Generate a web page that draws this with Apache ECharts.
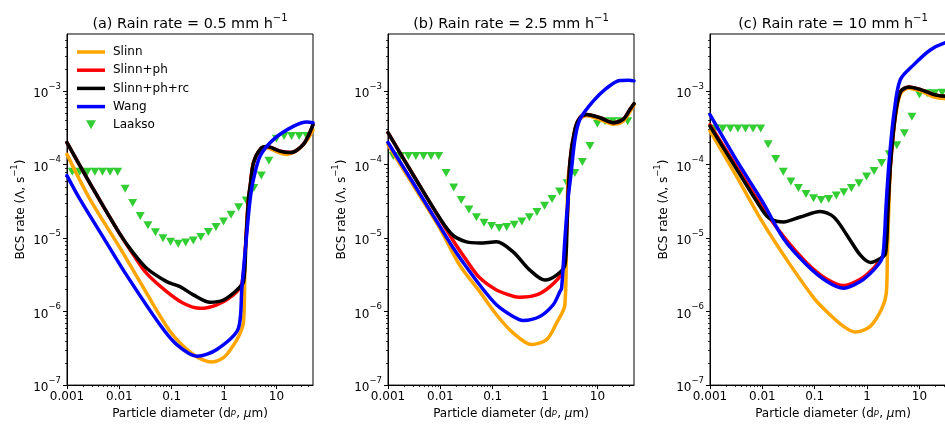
<!DOCTYPE html>
<html><head><meta charset="utf-8">
<script src="https://cdn.jsdelivr.net/npm/echarts@6/dist/echarts.min.js"></script>
<style>html,body{margin:0;padding:0;overflow:hidden;background:#fff}#c{width:960px;height:425px}</style>
</head><body><div id="c"></div><script>
// ---------- data ----------
const rainRates = ['0.5', '2.5', '10'];
const panelLetters = ['(a)', '(b)', '(c)'];
const seriesNames = ['Slinn', 'Slinn+ph', 'Slinn+ph+rc', 'Wang', 'Laakso'];
const seriesColors = ['#FFA500', '#FF0000', '#000000', '#0000FF', '#32CD32'];
const xTickValues = [0.001, 0.01, 0.1, 1, 10];
const xTickLabels = ['0.001', '0.01', '0.1', '1', '10'];
const yTickValues = [1e-7, 1e-6, 1e-5, 1e-4, 1e-3];
const yTickExponents = ['−7', '−6', '−5', '−4', '−3'];

const laaksoDiam = [0.00126,0.00175,0.00245,0.00341,0.00476,0.00664,0.00927,0.0129,0.0180,0.0251,0.0351,0.0489,0.0682,0.0951,0.133,0.185,0.258,0.360,0.502,0.700,0.977,1.36,1.90,2.65,3.70,5.16,7.19,10.0,14.0,19.5,27.2,37.9];
const laaksoA = [8.0e-5,8.0e-5,8.0e-5,8.0e-5,8.0e-5,8.0e-5,8.0e-5,4.7e-5,3.0e-5,2.0e-5,1.5e-5,1.2e-5,1.0e-5,8.9e-6,8.4e-6,8.7e-6,9.3e-6,1.04e-5,1.21e-5,1.42e-5,1.69e-5,2.08e-5,2.64e-5,3.24e-5,4.8e-5,7.1e-5,1.13e-4,2.25e-4,2.45e-4,2.45e-4,2.45e-4,2.45e-4];
const laaksoB = [1.31e-4,1.31e-4,1.31e-4,1.31e-4,1.31e-4,1.31e-4,1.31e-4,7.7e-5,4.9e-5,3.3e-5,2.45e-5,1.93e-5,1.62e-5,1.46e-5,1.37e-5,1.42e-5,1.52e-5,1.69e-5,1.93e-5,2.26e-5,2.77e-5,3.4e-5,4.3e-5,5.6e-5,7.7e-5,1.09e-4,1.8e-4,3.6e-4,3.9e-4,3.9e-4,3.9e-4,3.9e-4];
const laaksoC = [3.1e-4,3.1e-4,3.1e-4,3.1e-4,3.1e-4,3.1e-4,3.1e-4,1.9e-4,1.19e-4,8.0e-5,5.9e-5,4.8e-5,4.0e-5,3.5e-5,3.3e-5,3.4e-5,3.8e-5,4.2e-5,4.8e-5,5.6e-5,6.9e-5,8.2e-5,1.05e-4,1.39e-4,1.84e-4,2.67e-4,4.5e-4,9.0e-4,9.4e-4,9.4e-4,9.5e-4,9.5e-4];

// panel (a) 0.5 mm/h
const slinnA = [[0.001,1.38e-4],[0.00272,3.42e-5],[0.01,7.6e-6],[0.0247,2.56e-6],[0.0927,5.4e-7],[0.259,2.61e-7],[0.583,2.06e-7],[1.13,2.61e-7],[2.36,7.4e-7],[2.51,5.0e-6],[2.82,2.5e-5],[3.16,5.0e-5],[3.63,1.05e-4],[4.9,1.58e-4],[6.6,1.7e-4],[10,1.51e-4],[15.8,1.38e-4],[25,1.58e-4],[35.5,2.0e-4],[50,2.95e-4]];
const slinnPhA = [[0.001,2.0e-4],[0.00316,4.68e-5],[0.01,1.17e-5],[0.0184,6.0e-6],[0.0332,3.31e-6],[0.0802,1.87e-6],[0.167,1.30e-6],[0.348,1.11e-6],[0.728,1.24e-6],[1.51,1.69e-6],[2.19,2.43e-6],[2.63,1.0e-5],[2.93,3.42e-5],[3.16,5.2e-5],[3.66,1.07e-4],[4.9,1.62e-4],[6.6,1.76e-4],[11.7,1.53e-4],[18.5,1.46e-4],[33,1.9e-4],[50,3.5e-4]];
const slinnPhRcA = [[0.001,2.0e-4],[0.00316,4.68e-5],[0.01,1.17e-5],[0.0184,6.3e-6],[0.0332,3.89e-6],[0.0802,2.56e-6],[0.144,2.19e-6],[0.259,1.69e-6],[0.542,1.34e-6],[0.975,1.44e-6],[1.76,1.97e-6],[2.36,2.56e-6],[2.63,1.0e-5],[2.93,3.42e-5],[3.16,5.2e-5],[3.66,1.07e-4],[4.9,1.62e-4],[6.6,1.76e-4],[11.7,1.53e-4],[18.5,1.46e-4],[33,1.9e-4],[50,3.5e-4]];
const wangA = [[0.001,7.1e-5],[0.00175,3.42e-5],[0.005,1.01e-5],[0.01374,3.14e-6],[0.0597,6.64e-7],[0.125,3.56e-7],[0.305,2.47e-7],[0.728,3.05e-7],[1.89,5.98e-7],[2.19,2.1e-6],[2.73,1.21e-5],[3.16,3.42e-5],[3.66,6.4e-5],[4.92,1.32e-4],[8.85,2.21e-4],[21.4,3.34e-4],[38.5,3.8e-4],[50,3.72e-4]];

// panel (b) 2.5 mm/h
const slinnB = [[0.001,1.86e-4],[0.00316,5.0e-5],[0.01,1.32e-5],[0.0235,4.28e-6],[0.0566,1.87e-6],[0.118,9.06e-7],[0.245,5.13e-7],[0.552,3.56e-7],[1.07,4.16e-7],[1.66,7.0e-7],[2.39,1.24e-6],[2.57,1.0e-5],[2.75,6.3e-5],[2.98,1.0e-4],[3.72,2.88e-4],[4.62,4.17e-4],[6.21,4.62e-4],[11.2,4.12e-4],[20,3.55e-4],[30.9,3.89e-4],[41.7,5.25e-4],[50,6.46e-4]];
const slinnPhB = [[0.001,2.72e-4],[0.00316,6.9e-5],[0.01,1.78e-5],[0.0175,9.3e-6],[0.0316,5.0e-6],[0.0566,2.88e-6],[0.118,1.97e-6],[0.245,1.62e-6],[0.33,1.57e-6],[0.687,1.69e-6],[1.24,2.19e-6],[2.07,3.31e-6],[2.40,6.3e-6],[2.63,1.58e-5],[2.98,1.07e-4],[3.72,3.02e-4],[4.62,4.35e-4],[6.21,4.81e-4],[11.2,4.35e-4],[20,3.72e-4],[30.9,4.12e-4],[41.7,5.62e-4],[50,6.76e-4]];
const slinnPhRcB = [[0.001,2.72e-4],[0.00316,6.9e-5],[0.01,1.82e-5],[0.0175,1.09e-5],[0.0316,8.9e-6],[0.0566,8.6e-6],[0.118,8.9e-6],[0.245,6.5e-6],[0.513,3.67e-6],[0.99,2.69e-6],[1.66,3.14e-6],[2.39,4.28e-6],[2.63,1.58e-5],[2.98,1.07e-4],[3.72,3.02e-4],[4.62,4.35e-4],[6.21,4.81e-4],[11.2,4.35e-4],[20,3.72e-4],[30.9,4.12e-4],[41.7,5.62e-4],[50,6.76e-4]];
const wangB = [[0.001,2.0e-4],[0.00316,5.37e-5],[0.01,1.41e-5],[0.0175,7.4e-6],[0.0272,4.68e-6],[0.0566,2.3e-6],[0.118,1.24e-6],[0.245,8.6e-7],[0.381,7.6e-7],[0.794,8.6e-7],[1.43,1.24e-6],[1.92,1.87e-6],[2.07,2.08e-6],[2.40,1.0e-5],[2.75,3.39e-5],[3.16,7.9e-5],[3.72,2.21e-4],[4.62,4.12e-4],[8.3,7.3e-4],[15,1.1e-3],[26.9,1.4e-3],[39.8,1.41e-3],[50,1.38e-3]];

// panel (c) 10 mm/h
const slinnC = [[0.001,2.88e-4],[0.00316,7.08e-5],[0.01,1.66e-5],[0.0316,4.68e-6],[0.1,1.48e-6],[0.17,1.0e-6],[0.355,6.3e-7],[0.594,5.28e-7],[1.15,6.3e-7],[1.93,1.11e-6],[2.33,1.78e-6],[2.45,6.3e-6],[2.63,3.16e-5],[2.82,1.07e-4],[3.52,4.79e-4],[4.39,9.3e-4],[6.31,1.1e-3],[10.6,1.0e-3],[19.1,8.3e-4],[32,7.9e-4],[50,8.3e-4]];
const slinnPhC = [[0.001,3.5e-4],[0.00316,9.6e-5],[0.01,2.63e-5],[0.0255,1.05e-5],[0.0715,4.57e-6],[0.172,2.75e-6],[0.355,2.26e-6],[0.741,2.75e-6],[1.33,3.89e-6],[1.93,5.5e-6],[2.24,6.3e-6],[2.51,2.51e-5],[2.82,1.07e-4],[3.52,5.07e-4],[4.39,9.9e-4],[6.31,1.14e-3],[10.6,1.05e-3],[19.1,8.97e-4],[32.1,8.5e-4],[50,8.5e-4]];
const slinnPhRcC = [[0.001,3.34e-4],[0.00316,8.9e-5],[0.01,2.4e-5],[0.0141,1.84e-5],[0.0254,1.66e-5],[0.053,1.94e-5],[0.128,2.3e-5],[0.231,1.94e-5],[0.416,1.09e-5],[0.746,5.86e-6],[1.16,4.67e-6],[1.80,5.28e-6],[2.25,6.18e-6],[2.51,2.51e-5],[2.82,1.07e-4],[3.52,5.07e-4],[4.39,9.9e-4],[6.31,1.14e-3],[10.6,1.05e-3],[19.1,8.97e-4],[32.1,8.5e-4],[50,8.5e-4]];
const wangC = [[0.001,4.8e-4],[0.00316,1.17e-4],[0.01,3.16e-5],[0.0255,9.8e-6],[0.0715,4.28e-6],[0.172,2.57e-6],[0.355,2.08e-6],[0.741,2.56e-6],[1.33,3.67e-6],[1.93,5.28e-6],[2.14,1.0e-5],[2.29,2.51e-5],[2.63,1.07e-4],[3.28,5.07e-4],[4.31,1.43e-3],[7.74,2.28e-3],[16.1,3.63e-3],[31.3,4.57e-3],[50,4.8e-3]];

const panelLines = [[slinnA, slinnPhA, slinnPhRcA, wangA], [slinnB, slinnPhB, slinnPhRcB, wangB], [slinnC, slinnPhC, slinnPhRcC, wangC]];
const panelLaakso = [laaksoA, laaksoB, laaksoC];

// ---------- layout ----------
const gridLefts = [67, 388, 710];
const gridWidth = 246, gridTop = 34, gridHeight = 353.5;
const X_MIN = 0.001, X_MAX = 50, Y_MIN = 1e-7, Y_MAX = 6e-3;
const FONT = 'DejaVu Sans';

const minorX = [], minorY = [];
for (let e = -3; e <= 1; e++) for (let k = 2; k <= 9; k++) { const v = Number((k * Math.pow(10, e)).toPrecision(2)); if (v < X_MAX) minorX.push(v); }
for (let e = -7; e <= -3; e++) for (let k = 2; k <= 9; k++) { const v = Number((k * Math.pow(10, e)).toPrecision(2)); if (v < Y_MAX) minorY.push(v); }

function matchIdx(arr, v) { return arr.findIndex(t => Math.abs(Math.log10(t) - Math.log10(v)) < 1e-6); }
const axisLineStyle = { color: '#000', width: 1 };

const option = {
  animation: false, backgroundColor: '#fff',
  textStyle: { fontFamily: FONT, color: '#000' },
  title: [], grid: [], xAxis: [], yAxis: [], series: [],
  legend: {
    left: 77, top: 45, padding: 0, orient: 'vertical', itemWidth: 28, itemHeight: 14, itemGap: 4.2,
    selectedMode: false, symbolKeepAspect: true,
    textStyle: { fontFamily: FONT, fontSize: 12, color: '#000', lineHeight: 14, padding: [0, 0, 0, 3] },
    itemStyle: { borderWidth: 0 },
    data: seriesNames.map((n, i) => ({
      name: n,
      icon: i < 4 ? 'path://M0,0h28v3.5h-28z' : 'path://M0,0M28,14M9,2.5L19,2.5L14,11.5Z',
      itemStyle: { color: seriesColors[i], borderWidth: 0 }
    }))
  }
};

for (let p = 0; p < 3; p++) {
  const left = gridLefts[p];
  option.title.push({
    text: '{b|' + panelLetters[p] + ' Rain rate = ' + rainRates[p] + ' mm h}{sup|−1}',
    left: left + gridWidth / 2, top: 13, textAlign: 'center', padding: 0,
    textStyle: { fontFamily: FONT, fontWeight: 'normal', rich: {
      b: { fontFamily: FONT, fontSize: 14.4, color: '#000', lineHeight: 18, verticalAlign: 'bottom' },
      sup: { fontFamily: FONT, fontSize: 10, color: '#000', lineHeight: 11, verticalAlign: 'top' } } }
  });
  option.grid.push({ left: left, top: gridTop, width: gridWidth, height: gridHeight, show: true, borderColor: '#000', borderWidth: 1, backgroundColor: 'transparent' });
  option.xAxis.push({
    type: 'log', logBase: 10, gridIndex: p, min: X_MIN, max: X_MAX, position: 'bottom',
    axisLine: { lineStyle: axisLineStyle },
    axisTick: { customValues: xTickValues, length: 4, lineStyle: axisLineStyle },
    axisLabel: { customValues: xTickValues, color: '#000', fontFamily: FONT, fontSize: 12, margin: 6,
      formatter: v => { const i = matchIdx(xTickValues, v); return i >= 0 ? xTickLabels[i] : ''; } },
    splitLine: { show: false },
    name: '{b|Particle diameter (d}{sub|p}{b|, }{it|μ}{b|m)}', nameLocation: 'middle', nameGap: 20,
    nameTextStyle: { rich: {
      b: { fontFamily: FONT, fontSize: 12, color: '#000', lineHeight: 14, verticalAlign: 'top' },
      it: { fontFamily: FONT, fontSize: 12, fontStyle: 'italic', color: '#000', lineHeight: 14, verticalAlign: 'top' },
      sub: { fontFamily: FONT, fontSize: 8.5, fontStyle: 'italic', color: '#000', lineHeight: 22, verticalAlign: 'top' } } }
  });
  option.xAxis.push({
    type: 'log', logBase: 10, gridIndex: p, min: X_MIN, max: X_MAX, position: 'bottom',
    axisLine: { show: false }, axisLabel: { show: false }, splitLine: { show: false },
    axisTick: { customValues: minorX, length: 2, lineStyle: { color: '#000', width: 0.8 } }
  });
  option.yAxis.push({
    type: 'log', logBase: 10, gridIndex: p, min: Y_MIN, max: Y_MAX, position: 'left',
    axisLine: { lineStyle: axisLineStyle },
    axisTick: { customValues: yTickValues, length: 4, lineStyle: axisLineStyle },
    axisLabel: { customValues: yTickValues, margin: 6,
      formatter: v => { const i = matchIdx(yTickValues, v); return i >= 0 ? '{b|10}{sup|' + yTickExponents[i] + '}' : ''; },
      rich: {
        b: { fontFamily: FONT, fontSize: 12, color: '#000', lineHeight: 18, verticalAlign: 'bottom' },
        sup: { fontFamily: FONT, fontSize: 8.5, color: '#000', lineHeight: 9, verticalAlign: 'top' } } },
    splitLine: { show: false },
    name: '{b|BCS rate (Λ, s}{sup|−1}{b|)}', nameLocation: 'middle', nameGap: 40, nameRotate: 90,
    nameTextStyle: { rich: {
      b: { fontFamily: FONT, fontSize: 12, color: '#000', lineHeight: 17, verticalAlign: 'bottom' },
      sup: { fontFamily: FONT, fontSize: 8.5, color: '#000', lineHeight: 9, verticalAlign: 'top' } } }
  });
  option.yAxis.push({
    type: 'log', logBase: 10, gridIndex: p, min: Y_MIN, max: Y_MAX, position: 'left',
    axisLine: { show: false }, axisLabel: { show: false }, splitLine: { show: false },
    axisTick: { customValues: minorY, length: 2, lineStyle: { color: '#000', width: 0.8 } }
  });

  panelLines[p].forEach((data, i) => {
    option.series.push({
      type: 'line', name: seriesNames[i], xAxisIndex: 2 * p, yAxisIndex: 2 * p,
      data: data, symbol: 'none', showSymbol: false, smooth: 0.3, clip: true,
      lineStyle: { color: seriesColors[i], width: 3.5, join: 'round', cap: 'round' },
      itemStyle: { color: seriesColors[i] }, emphasis: { disabled: true }, silent: true
    });
  });
  option.series.push({
    type: 'scatter', name: 'Laakso', xAxisIndex: 2 * p, yAxisIndex: 2 * p,
    data: laaksoDiam.map((d, k) => [d, panelLaakso[p][k]]),
    symbol: 'path://M0,0L10,0L5,9Z', symbolSize: [9, 8], clip: true,
    itemStyle: { color: seriesColors[4], opacity: 1 }, emphasis: { disabled: true }, silent: true
  });
}

const chart = echarts.init(document.getElementById('c'), null, { renderer: 'canvas', width: 960, height: 425 });
chart.setOption(option);
</script></body></html>
